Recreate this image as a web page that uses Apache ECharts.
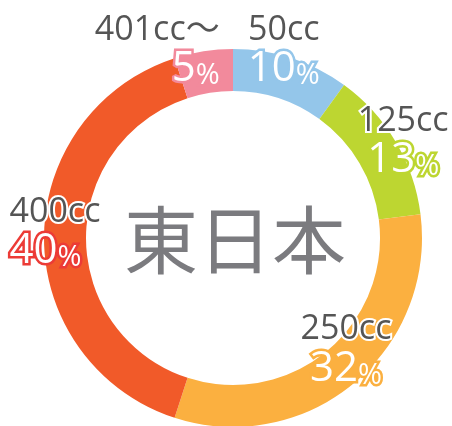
<!DOCTYPE html>
<html>
<head>
<meta charset="utf-8">
<script src="https://cdn.jsdelivr.net/npm/echarts@6/dist/echarts.min.js"></script>
<style>
  html, body { margin: 0; padding: 0; background: #fff; }
  #regionPie { width: 452px; height: 426px; }
</style>
</head>
<body>
<div id="regionPie"></div>
<script>
// 排気量別シェア（東日本）
const regionName = '東日本'
const categories = ['50cc', '125cc', '250cc', '400cc', '401cc～']
const shares = [10, 13, 32, 40, 5]
const colors = ['#94c6ea', '#bdd631', '#fbb040', '#f15a29', '#f28a9c']
const pctBorder = ['#94c6ea', '#bdd631', '#fbb040', '#ec3b36', '#f28a9c']

// label placement tweaks (offset from ring middle, px)
const labelShift = [[-2, -24], [23, -9], [4, -19], [-7, -5], [-49, -18]]
const labelAlign = ['left', 'center', 'center', 'left', 'right']

const chart = echarts.init(document.getElementById('regionPie'))

const seriesData = categories.map((name, i) => ({
  name: name,
  value: shares[i],
  itemStyle: { color: colors[i] },
  label: {
    rich: {
      v: { textBorderColor: pctBorder[i], align: labelAlign[i] },
      u: { textBorderColor: pctBorder[i], align: labelAlign[i] },
    },
  },
}))

const option = {
  animation: false,
  title: {
    text: regionName,
    left: 230,
    top: 198,
    textAlign: 'center',
    textStyle: {
      fontFamily: 'Noto Sans CJK JP',
      fontSize: 74,
      fontWeight: 'normal',
      color: '#7b7b7f',
    },
  },
  series: [
    {
      type: 'pie',
      center: [233, 238],
      radius: [147, 189],
      startAngle: 90,
      clockwise: true,
      data: seriesData,
      label: {
        show: true,
        position: 'inside',
        rotate: 0,
        formatter: (p) => '{n|' + p.name + '}\n{v|' + p.value + '}{u|%}',
        rich: {
          n: {
            fontFamily: 'Open Sans, Noto Sans CJK JP',
            fontSize: 34,
            color: '#555',
            textBorderColor: '#fff',
            textBorderWidth: 4,
            lineHeight: 36,
          },
          v: {
            fontFamily: 'Open Sans',
            fontSize: 42,
            color: '#fff',
            textBorderWidth: 5,
            lineHeight: 42,
          },
          u: {
            fontFamily: 'Open Sans',
            fontSize: 29,
            color: '#fff',
            textBorderWidth: 5,
            lineHeight: 42,
            verticalAlign: 'bottom',
          },
        },
      },
      labelLine: { show: false },
      labelLayout: (params) => ({
        dx: labelShift[params.dataIndex][0],
        dy: labelShift[params.dataIndex][1],
      }),
    },
  ],
}

chart.setOption(option)
window.addEventListener('resize', function () {
  chart.resize()
})
</script>
</body>
</html>
